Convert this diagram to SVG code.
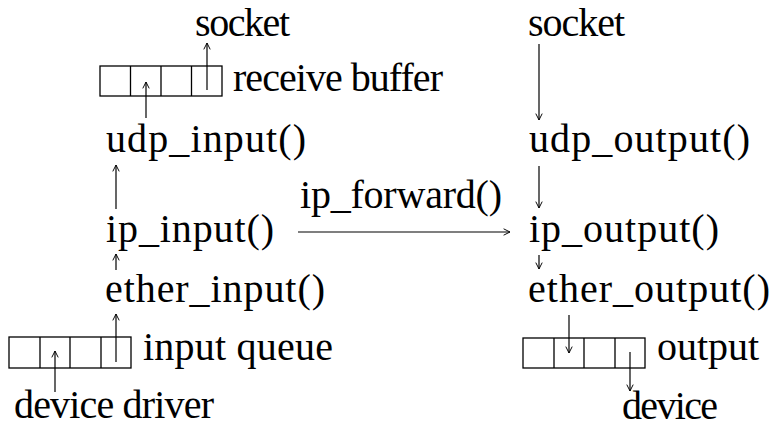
<svg xmlns="http://www.w3.org/2000/svg" width="773" height="429" viewBox="0 0 773 429">
<defs>
<marker id="ah" viewBox="0 0 10 10" refX="9" refY="5" markerWidth="8" markerHeight="8" markerUnits="userSpaceOnUse" orient="auto">
<path d="M1,1 L9,5 L1,9" fill="none" stroke="#000" stroke-width="1.2"/>
</marker>
<style>
text{font-family:"Liberation Serif","DejaVu Serif",serif;font-size:40px;fill:#000}
.buf{fill:none;stroke:#000;stroke-width:1.3}
.c{stroke:#000;stroke-width:1.2;fill:none;marker-end:url(#ah)}
</style>
</defs>
<g id="socket_in"><text x="195" y="36" textLength="95">socket</text></g>
<g id="recv_buffer">
<rect class="buf" x="100" y="66" width="122" height="30"/>
<path class="buf" d="M130.5,66V96M161,66V96M191.5,66V96"/>
<text x="233" y="91" textLength="210">receive buffer</text>
</g>
<g id="udp_input"><text x="106" y="152" textLength="200">udp_input()</text></g>
<g id="ip_input"><text x="106" y="242" textLength="168">ip_input()</text></g>
<g id="ether_input"><text x="105" y="302" textLength="220">ether_input()</text></g>
<g id="input_queue">
<rect class="buf" x="9" y="337" width="122" height="31"/>
<path class="buf" d="M40,337V368M70,337V368M101,337V368"/>
<text x="143" y="360" textLength="190">input queue</text>
</g>
<g id="device_driver"><text x="14" y="418" textLength="200">device driver</text></g>
<g id="socket_out"><text x="528" y="36" textLength="97">socket</text></g>
<g id="udp_output"><text x="529" y="152" textLength="221">udp_output()</text></g>
<g id="ip_output"><text x="529" y="242" textLength="190">ip_output()</text></g>
<g id="ether_output"><text x="528" y="302" textLength="242">ether_output()</text></g>
<g id="output_queue">
<rect class="buf" x="523" y="338" width="122" height="30"/>
<path class="buf" d="M554,338V368M584,338V368M615,338V368"/>
<text x="657" y="360" textLength="102">output</text>
</g>
<g id="device"><text x="622" y="419" textLength="96">device</text></g>
<g id="ip_forward"><text x="300" y="208" textLength="202">ip_forward()</text></g>
<g id="connectors">
<line class="c" x1="146" y1="118" x2="146" y2="82"/>
<line class="c" x1="207" y1="90" x2="207" y2="43"/>
<line class="c" x1="116" y1="209" x2="116" y2="165"/>
<line class="c" x1="116" y1="270" x2="116" y2="254"/>
<line class="c" x1="116" y1="362" x2="116" y2="314"/>
<line class="c" x1="55" y1="392" x2="55" y2="351"/>
<line class="c" x1="298" y1="232" x2="510" y2="232"/>
<line class="c" x1="539" y1="44" x2="539" y2="120"/>
<line class="c" x1="539" y1="166" x2="539" y2="208"/>
<line class="c" x1="539" y1="255" x2="539" y2="269"/>
<line class="c" x1="569" y1="315" x2="569" y2="353"/>
<line class="c" x1="630" y1="352" x2="630" y2="391"/>
</g>
</svg>
